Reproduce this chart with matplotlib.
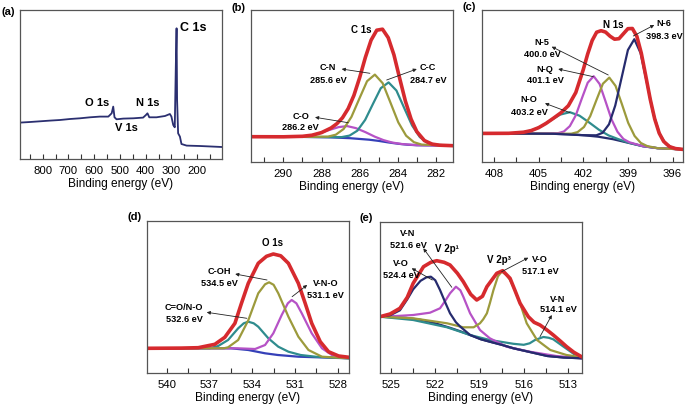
import matplotlib
matplotlib.use('Agg')
import matplotlib.pyplot as plt
from matplotlib import ticker

plt.rcParams['font.family'] = ['Liberation Sans', 'DejaVu Sans']

# ---------------- data (intensity in arbitrary units) ----------------
# (a) survey
survey_be = [888, 849, 810, 771, 733, 694, 655, 616, 578, 545, 532, 526, 521, 513,
             487, 448, 410, 399, 393, 386, 358, 325, 306, 300, 293, 287, 283, 280,
             278, 274, 267, 261, 241, 190, 138, 104]
survey_int = [36.7, 37.3, 38.0, 38.7, 39.3, 40.3, 41.0, 42.0, 42.7, 42.7, 46.0, 52.7,
              42.0, 40.0, 40.7, 41.0, 41.7, 44.3, 46.0, 42.0, 42.0, 43.3, 45.3, 42.7,
              34.3, 32.0, 92.7, 131.0, 59.3, 26.0, 22.7, 15.3, 13.7, 13.3, 12.7, 12.3]

# (b) C 1s
b_base_x = [291.7, 289, 287.5, 286.5, 285.5, 285, 284.5, 284, 283.5, 283, 281.1]
b_base_y = [25, 24.8, 24.3, 23.5, 22, 20.8, 19.3, 18, 17, 16.5, 16]
cn_x = [291.7, 289.0, 287.66, 287.25, 286.84, 286.43, 286.02, 285.61, 285.2, 284.79,
        284.38, 283.97, 283.56, 283.15, 282.74, 281.1]
cn_y = [25, 24.8, 25.1, 27.0, 32.7, 44.8, 62.8, 80.5, 87.1, 78.5, 59.0, 39.3, 26.0,
        19.5, 17.1, 16]
cc_x = [291.7, 289, 286.94, 286.53, 286.12, 285.71, 285.3, 284.89, 284.48, 284.07,
        283.66, 283.25, 282.84, 282.43, 282.02, 281.1]
cc_y = [25, 24.8, 24.6, 26.1, 31.0, 41.8, 57.8, 73.5, 79.3, 71.2, 53.7, 36.3, 24.6,
        18.9, 17.0, 16]
co_x = [291.7, 289.5, 289.0, 288.55, 288.1, 287.6, 287.1, 286.65, 286.2, 285.7, 285.2,
        284.75, 284.3, 283.8, 283.0, 281.1]
co_y = [25, 25.0, 25.3, 26.3, 28.4, 31.7, 34.6, 35.6, 33.6, 29.6, 25.0, 21.6, 19.2,
        17.7, 16.5, 16]
b_env_x = [291.7, 290, 289, 288.5, 288, 287.5, 287.2, 286.9, 286.6, 286.3, 286.0,
           285.7, 285.4, 285.1, 284.8, 284.5, 284.2, 283.9, 283.6, 283.3, 283.0,
           282.6, 282.2, 281.8, 281.1]
b_env_y = [25, 24.9, 25.4, 26.5, 29.1, 33.7, 37.9, 43.9, 53.1, 66.3, 84.0, 104.2,
           121.5, 131.5, 132.5, 124.0, 106.9, 83.5, 60.7, 42.6, 30.1, 21.1, 17.6,
           16.5, 16]

# (c) N 1s
c_base_x = [408.8, 406, 404, 403, 402, 401, 400, 399, 398, 397, 395.3]
c_base_y = [28.3, 28.2, 27.9, 27.5, 26.5, 25, 22.5, 19, 15.5, 13.5, 12.3]
n6_x = [408.8, 404, 402, 401.12, 400.7, 400.27, 399.85, 399.42, 399.0, 398.57, 398.15,
        397.72, 397.3, 396.87, 396.45, 396.02, 395.3]
n6_y = [28.3, 27.9, 26.5, 26.4, 28.9, 37.4, 56.2, 84.2, 111.7, 122.5, 108.7, 78.6,
        48.3, 27.6, 17.7, 14.0, 12.3]
n5_x = [408.8, 404, 402.8, 402.38, 401.95, 401.53, 401.1, 400.68, 400.25, 399.83,
        399.4, 398.98, 398.55, 398.13, 397.7, 397, 395.3]
n5_y = [28.3, 27.9, 28.0, 29.6, 34.7, 45.6, 62.2, 78.0, 84.1, 75.8, 57.4, 38.8, 25.7,
        18.7, 15.6, 13.5, 12.3]
nq_x = [408.8, 405, 403.7, 403.3, 402.9, 402.5, 402.1, 401.7, 401.3, 400.9, 400.5,
        400.1, 399.7, 399.3, 398.9, 398, 397, 395.3]
nq_y = [28.3, 28.0, 28.5, 30.2, 35.6, 46.4, 63.0, 79.0, 85.5, 77.7, 60.2, 42.3, 29.9,
        22.7, 19.4, 15.6, 13.5, 12.3]
no_x = [408.8, 406.8, 406.15, 405.5, 404.85, 404.2, 403.55, 402.9, 402.25, 401.6,
        400.95, 400.3, 399.65, 399.0, 398, 397, 395.3]
no_y = [28.3, 28.5, 29.2, 31.1, 35.1, 41.2, 47.1, 49.5, 46.0, 39.2, 32.0, 26.3, 22.6,
        19.2, 15.5, 13.5, 12.3]
c_env_x = [408.8, 407, 406, 405.5, 405, 404.5, 404, 403.5, 403, 402.5, 402, 401.7,
           401.4, 401.1, 400.8, 400.5, 400.2, 399.9, 399.6, 399.3, 399.0, 398.7,
           398.4, 398.1, 397.8, 397.5, 397.2, 396.9, 396.6, 396.2, 395.8, 395.3]
c_env_y = [28.3, 28.4, 29.5, 31.1, 34.0, 38.3, 43.5, 48.9, 56.0, 69.2, 92.0, 107.8,
           121.2, 129.5, 131.0, 129.6, 125.5, 122.5, 123.0, 128.0, 133.0, 133.2,
           125.4, 108.5, 85.7, 62.4, 42.7, 28.6, 20.3, 15.0, 13.1, 12.3]

# (d) O 1s
d_base_x = [541.4, 535.5, 534.28, 533.1, 532.2, 530.76, 527.2]
d_base_y = [25, 25, 23.3, 20, 18.3, 16.6, 15]
coh_x = [541.4, 537, 536.0, 535.7, 534.99, 534.28, 533.58, 533.1, 532.82, 532.5,
         532.17, 531.46, 530.76, 530.05, 529.1, 527.2]
coh_y = [25, 25, 25, 26, 33.3, 53, 80, 89, 91, 88.5, 80, 56.6, 36.6, 23.3, 16.6, 15]
cono_x = [541.4, 537.0, 536.4, 535.7, 534.99, 534.6, 534.28, 533.9, 533.58, 532.87,
          532.17, 531.46, 530.6, 529.5, 527.2]
cono_y = [25, 25, 27.3, 33.3, 45, 50, 51.6, 50, 46.6, 35, 26.6, 21.6, 18.3, 16.5, 15]
vno_x = [541.4, 535, 533.8, 533.1, 532.52, 531.93, 531.5, 531.23, 530.9, 530.52,
         529.82, 529.1, 528.4, 527.2]
vno_y = [25, 25, 24.3, 28.3, 40, 58.3, 70, 73.3, 70, 60, 40, 25, 18.3, 15.6]
d_env_x = [541.4, 539, 537.8, 536.63, 535.93, 535.22, 534.76, 534.28, 533.58, 533.0,
           532.52, 532.0, 531.46, 530.76, 530.28, 529.82, 529.22, 528.64, 527.93, 527.2]
d_env_y = [25, 25.2, 25.6, 29, 36, 50, 70, 90, 110, 117, 119.3, 117.5, 110, 90, 70,
           50, 31.6, 21.6, 17.3, 16]

# (e) V 2p
e_base_x = [525.75, 524, 523, 522, 521, 520.3, 519.64, 518.9, 518.3, 517.5, 516.7,
            515.5, 514.4, 513.3, 512.05]
e_base_y = [56.6, 55.5, 53.5, 50, 45.5, 42, 38.3, 34, 31.6, 28.5, 25, 21, 17.3, 15.8, 15]
vo1_x = [525.75, 525.07, 524.4, 523.9, 523.5, 523.0, 522.6, 522.3, 522.0, 521.68,
         521.3, 521.0, 520.6, 520.3, 519.64, 518.9, 518.3, 517.5, 516.7, 515.5,
         514.4, 513.3, 512.05]
vo1_y = [56.6, 58, 63, 74, 84, 92.5, 96, 96.6, 93, 83.3, 70, 60, 51, 46.6, 38.3, 34,
         31.6, 28.5, 25, 21, 17.3, 15.8, 15]
vn1_x = [525.75, 524.4, 523.5, 522.36, 521.68, 521.3, 521.0, 520.6, 520.3, 520.1,
         519.64, 518.97, 518.3, 517.16, 515.6, 513.8, 512.05]
vn1_y = [56.6, 57.5, 58.3, 60.6, 65, 73, 80, 86.6, 83, 76.6, 60, 43.3, 35, 26.6,
         21.6, 17.3, 15]
vo2_x = [525.75, 523.5, 521.2, 520.1, 519.4, 518.97, 518.75, 518.5, 518.3, 518.06,
         517.75, 517.5, 517.2, 516.93, 516.6, 516.25, 515.8, 515.1, 514.2, 513.1, 512.05]
vo2_y = [56.6, 55, 50, 46, 46, 50, 54, 60, 70, 83, 97, 101.6, 99, 93.3, 83, 70, 50,
         33.3, 23.3, 18.3, 16]
vn2_x = [525.75, 523.5, 521.2, 519.64, 518.3, 516.7, 516.0, 515.6, 515.24, 514.67,
         514.3, 514.0, 513.3, 512.6, 512.05]
vn2_y = [56.6, 53.3, 46, 38.3, 33.3, 29.5, 28.5, 30, 33.3, 36.3, 35.5, 34, 26.6,
         19.3, 16.3]
e_env_x = [525.75, 525.07, 524.4, 523.9, 523.5, 522.8, 522.3, 521.9, 521.4, 521.0,
           520.5, 520.1, 519.6, 519.19, 518.8, 518.5, 517.83, 517.43, 516.93, 516.6,
           516.25, 515.69, 515.3, 514.9, 514.4, 514.0, 513.5, 513.09, 512.6, 512.05]
e_env_y = [56.6, 59.3, 65, 76, 90, 106.6, 111, 112.6, 111, 108.3, 100, 91.6, 79,
           73.3, 77, 86.6, 100, 102.6, 95, 83, 70, 56.6, 51, 48.3, 43, 38.3, 32,
           26.6, 21, 16.3]

# ---------------- style ----------------
RED = '#d62a2e'
OLIVE = '#9c9a3c'
TEAL = '#2f8c8e'
MAGENTA = '#b652c6'
NAVY = '#262b6e'
BLUE = '#3540b8'
SPINE = '#555555'

W, H = 685, 408
fig = plt.figure(figsize=(W / 100, H / 100), dpi=100)


def px_axes(left, top, right, bottom):
    return fig.add_axes([left / W, 1 - bottom / H, (right - left) / W, (bottom - top) / H])


def style(ax, xlim, ylim, major, minor):
    ax.set_xlim(*xlim)
    ax.set_ylim(*ylim)
    ax.xaxis.set_major_locator(ticker.MultipleLocator(major))
    ax.xaxis.set_minor_locator(ticker.MultipleLocator(minor))
    ax.tick_params(axis='x', which='both', direction='in', top=False, length=3.5,
                   width=0.8, color='#333333', labelsize=8.2, pad=5)
    ax.tick_params(axis='y', which='both', left=False, labelleft=False)
    for sp in ax.spines.values():
        sp.set_color(SPINE)
        sp.set_linewidth(0.9)
    ax.set_xlabel('Binding energy (eV)', fontsize=8.6, labelpad=1.5)


def label(ax, x, y, s, size=6.6):
    ax.text(x, y, s, fontsize=size, fontweight='bold', ha='center', va='center')


def arrow(ax, tail, head):
    ax.annotate('', xy=head, xytext=tail,
                arrowprops=dict(arrowstyle='-|>', color='#222222', lw=0.6,
                                mutation_scale=5, shrinkA=0, shrinkB=0))


def comp(ax, x, y, c, lw=1.6):
    ax.plot(x, y, color=c, lw=lw, solid_capstyle='round', solid_joinstyle='round')


# (a) survey
ax = px_axes(20, 10, 222, 159.3)
ax.plot(survey_be, survey_int, color='#2b2f70', lw=1.3)
style(ax, (888, 103.6), (0, 149.3), 100, 50)
ax.text(267, 131.3, 'C 1s', fontsize=9, fontweight='bold', ha='left', va='center')
label(ax, 589, 56.3, 'O 1s', 8)
label(ax, 391, 56.3, 'N 1s', 8)
label(ax, 473, 31.3, 'V 1s', 8)

# (b) C 1s
ax = px_axes(251, 10, 453, 161.7)
comp(ax, b_base_x, b_base_y, BLUE)
comp(ax, co_x, co_y, MAGENTA)
comp(ax, cc_x, cc_y, TEAL)
comp(ax, cn_x, cn_y, OLIVE)
comp(ax, b_env_x, b_env_y, RED, 2.6)
style(ax, (291.7, 281.1), (0, 151.7), 2, 1)
label(ax, 285.9, 131.7, 'C 1s', 7)
label(ax, 287.66, 93.7, 'C-N')
label(ax, 287.66, 80.7, '285.6 eV')
arrow(ax, (285.46, 88.4), (286.94, 92.7))
label(ax, 282.41, 93.7, 'C-C')
label(ax, 282.41, 80.7, '284.7 eV')
arrow(ax, (284.58, 81.7), (283.0, 92.7))
label(ax, 289.09, 44.7, 'C-O')
label(ax, 289.09, 33.7, '286.2 eV')
arrow(ax, (286.6, 39), (288.34, 44.4))

# (c) N 1s
ax = px_axes(482, 10, 683, 161.7)
comp(ax, c_base_x, c_base_y, NAVY)
comp(ax, no_x, no_y, TEAL)
comp(ax, nq_x, nq_y, MAGENTA)
comp(ax, n5_x, n5_y, OLIVE)
comp(ax, n6_x, n6_y, NAVY)
comp(ax, c_env_x, c_env_y, RED, 2.6)
style(ax, (408.8, 395.3), (0, 151.7), 3, 1.5)
label(ax, 400.0, 136.7, 'N 1s', 7)
label(ax, 396.58, 137.7, 'N-6')
label(ax, 396.58, 124.7, '398.3 eV')
arrow(ax, (398.64, 125.7), (397.23, 136.7))
label(ax, 404.77, 118.7, 'N-5')
label(ax, 404.77, 106.7, '400.0 eV')
arrow(ax, (400.32, 86.7), (404.12, 115))
label(ax, 404.57, 91.7, 'N-Q')
label(ax, 404.57, 80.7, '401.1 eV')
arrow(ax, (401.32, 85), (403.68, 92.7))
label(ax, 405.64, 61.7, 'N-O')
label(ax, 405.64, 48.7, '403.2 eV')
arrow(ax, (402.89, 49), (404.57, 58.4))

# (d) O 1s
ax = px_axes(147, 221, 349, 373.3)
comp(ax, d_base_x, d_base_y, BLUE)
comp(ax, cono_x, cono_y, TEAL)
comp(ax, vno_x, vno_y, MAGENTA)
comp(ax, coh_x, coh_y, OLIVE)
comp(ax, d_env_x, d_env_y, RED, 2.6)
style(ax, (541.4, 527.2), (0, 152.3), 3, 1.5)
label(ax, 532.6, 130.3, 'O 1s', 7)
label(ax, 536.33, 101.3, 'C-OH')
label(ax, 536.33, 90.3, '534.5 eV')
arrow(ax, (532.96, 93.3), (535.2, 99.3))
label(ax, 528.85, 90.3, 'V-N-O')
label(ax, 528.85, 78.3, '531.1 eV')
arrow(ax, (531.2, 76.6), (530.14, 88.3))
label(ax, 538.8, 65.3, 'C=O/N-O')
label(ax, 538.8, 54.3, '532.6 eV')
arrow(ax, (534.38, 55), (537.2, 61))

# (e) V 2p
ax = px_axes(380, 221.7, 582, 373.3)
comp(ax, e_base_x, e_base_y, NAVY)
comp(ax, vn2_x, vn2_y, TEAL)
comp(ax, vn1_x, vn1_y, MAGENTA)
comp(ax, vo2_x, vo2_y, OLIVE)
comp(ax, vo1_x, vo1_y, NAVY)
comp(ax, e_env_x, e_env_y, RED, 2.6)
style(ax, (525.75, 512.05), (0, 151.6), 3, 1.5)
label(ax, 523.85, 139.3, 'V-N')
label(ax, 523.85, 127.3, '521.6 eV')
label(ax, 521.2, 124.3, 'V 2p\u00b9', 7)
arrow(ax, (520.88, 86), (522.81, 125))
label(ax, 524.32, 110.3, 'V-O')
label(ax, 524.32, 98.3, '524.4 eV')
arrow(ax, (522.2, 93.3), (523.6, 105))
label(ax, 517.7, 113.5, 'V 2p\u00b3', 7)
label(ax, 514.9, 114.3, 'V-O')
label(ax, 514.9, 101.3, '517.1 eV')
arrow(ax, (517.5, 101.6), (515.69, 115.6))
label(ax, 513.68, 74.3, 'V-N')
label(ax, 513.68, 63.3, '514.1 eV')
arrow(ax, (514.9, 36.6), (514.1, 58.3))

# panel letters
for s, x, y in [('(a)', 2, 12), ('(b)', 232, 8), ('(c)', 462, 7), ('(d)', 128, 217), ('(e)', 360, 218)]:
    fig.text(x / W, 1 - y / H, s, fontsize=8, fontweight='bold', ha='left', va='center')

fig.savefig('out.png', dpi=100)
